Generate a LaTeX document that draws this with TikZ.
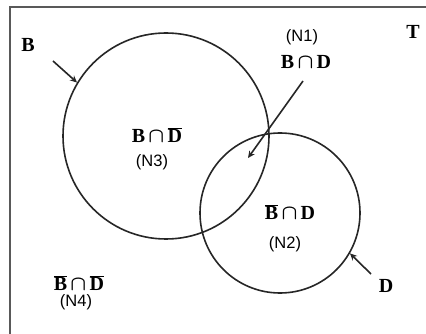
\documentclass[tikz,border=0pt]{standalone}
\usepackage{fontspec}
\usetikzlibrary{arrows.meta}
\setmainfont{Liberation Serif}
\newfontfamily\lsans{Liberation Sans}
\begin{document}
\begin{tikzpicture}[x=1pt,y=-1pt,
  ring/.style={circle,draw=black!85,line width=1.6pt,inner sep=0pt},
  setlab/.style={font=\fontsize{20}{20}\selectfont\bfseries,inner sep=0pt},
  numlab/.style={font=\lsans\fontsize{16.5}{16.5}\selectfont,inner sep=0pt},
  ptr/.style={-{Stealth[length=7pt,width=6.5pt]},line width=1.6pt,draw=black!85}]
\useasboundingbox (0,0) rectangle (426,334);
\clip (0,0) rectangle (426,334);
\fill[white] (0,0) rectangle (426,334);
\draw[line width=2pt,draw=black!65] (10,360) -- (10,7) -- (440,7);
\node[ring,minimum size=206pt] (B) at (166,136) {};
\node[ring,minimum size=160pt] (D) at (280,213) {};
% labels
\node[setlab] (lB) at (28,45) {B};
\node[setlab] (lT) at (413,32) {T};
\node[setlab] (lD) at (386,286) {D};
\node[numlab] (n1) at (302,37) {(N1)};
\node[setlab] (s1) at (306,62) {B\,{\boldmath$\cap$}\,D};
\node[setlab] (s3) at (157,135) {B\,{\boldmath$\cap$}\,$\overline{\mbox{D}}$};
\node[numlab] (n3) at (152,162) {(N3)};
\node[setlab] (s2) at (290,212) {$\overline{\mbox{B}}$\,{\boldmath$\cap$}\,D};
\node[numlab] (n2) at (285,244) {(N2)};
\node[setlab] (s4) at (79,283) {$\overline{\mbox{B}}$\,{\boldmath$\cap$}\,$\overline{\mbox{D}}$};
\node[numlab] (n4) at (76,302) {(N4)};
% arrows
\coordinate (bs) at (53,61);
\coordinate (ds) at (371,274);
\coordinate (n1s) at (303,81);
\coordinate (n1e) at (248,158);
\draw[ptr] (bs) -- (B.149);
\draw[ptr] (ds) -- (D.-30);
\draw[ptr] (n1s) -- (n1e);
\end{tikzpicture}
\end{document}
